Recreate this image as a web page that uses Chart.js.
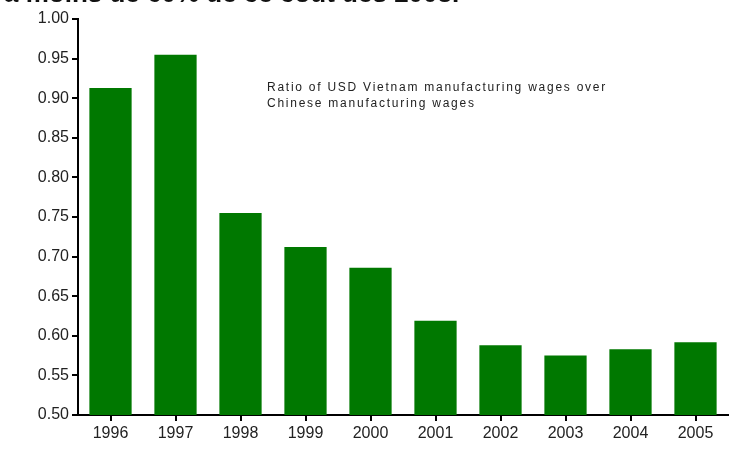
<html>
<head>
<script src="https://cdn.jsdelivr.net/npm/chart.js@4.4.1/dist/chart.umd.min.js"></script>
<style>
  body { margin: 0; background: #fff; overflow: hidden; }
  #wrap { position: relative; width: 754px; height: 462px; overflow: hidden; }
  #top {
    position: absolute; left: 4px; top: -22px; white-space: nowrap;
    font: bold 26px "Liberation Sans", Arial, sans-serif; color: #111;
  }
  #note {
    position: absolute; left: 267px; top: 79px; letter-spacing: 1.75px;
    font: 12px "Liberation Sans", Arial, sans-serif; color: #222; line-height: 16px;
  }
</style>
</head>
<body>
<div id="wrap">
  <canvas id="wageChart" width="754" height="462"></canvas>
  <div id="top">à moins de 60% de ce coût dès 2003.</div>
  <div id="note">Ratio of USD Vietnam manufacturing wages over<br>Chinese manufacturing wages</div>
</div>
<script>
  // years and Vietnam/China wage ratio
  var years = ["1996", "1997", "1998", "1999", "2000", "2001", "2002", "2003", "2004", "2005"];
  var wageRatio = [0.913, 0.955, 0.755, 0.712, 0.686, 0.619, 0.588, 0.575, 0.583, 0.592];
  var yTicks = [0.50, 0.55, 0.60, 0.65, 0.70, 0.75, 0.80, 0.85, 0.90, 0.95, 1.00];

  var ctx = document.getElementById('wageChart');

  var wageChart = new Chart(ctx, {
    type: "bar",
    data: {
      labels: years,
      datasets: [
        {
          label: "Ratio",
          backgroundColor: "#007800",
          borderColor: "#007800",
          borderWidth: 0,
          categoryPercentage: 1.0,
          barPercentage: 0.65,
          data: wageRatio
        }
      ]
    },
    options: {
      responsive: false,
      animation: false,
      layout: { padding: { top: 19, right: 26, left: 0, bottom: 0 } },
      plugins: { legend: { display: false }, tooltip: { enabled: false } },
      scales: {
        x: {
          grid: { offset: false, drawOnChartArea: false, tickLength: 6, color: "#000", lineWidth: 2 },
          border: { display: true, color: "#000", width: 2 },
          ticks: { color: "#222", font: { family: "Liberation Sans", size: 16 }, padding: 3, maxRotation: 0 },
          afterFit: function(scale) { scale.height = 47; }
        },
        y: {
          min: 0.5,
          max: 1.0,
          afterBuildTicks: function(scale) {
            scale.ticks = yTicks.map(function(v) { return { value: v }; });
          },
          grid: { drawOnChartArea: false, tickLength: 6, color: "#000", lineWidth: 2 },
          border: { display: true, color: "#000", width: 2 },
          ticks: {
            color: "#222",
            font: { family: "Liberation Sans", size: 16 },
            padding: 3,
            callback: function(v) { return Number(v).toFixed(2); }
          },
          afterFit: function(scale) { scale.width = 78; }
        }
      }
    }
  });
</script>
</body>
</html>
